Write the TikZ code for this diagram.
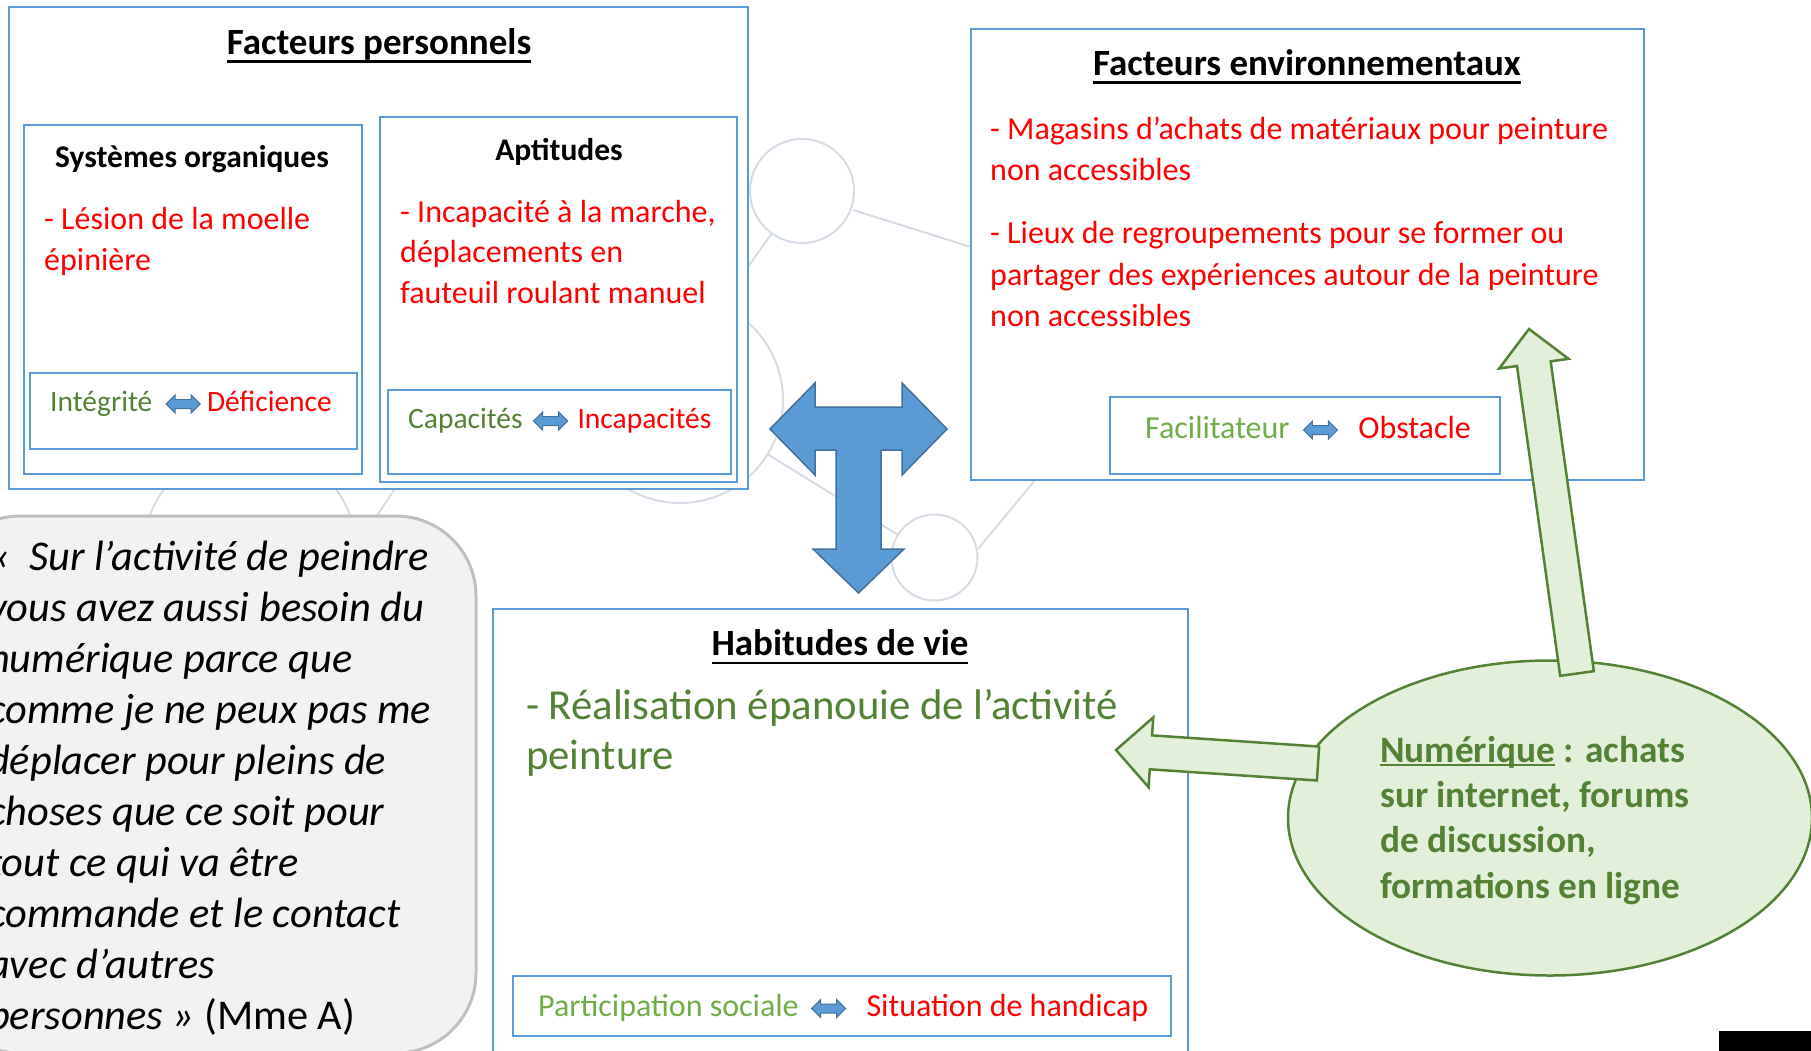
\documentclass[tikz,border=0pt]{standalone}
\usepackage{fontspec}
\setmainfont{Carlito}
\usetikzlibrary{positioning, shapes.geometric, shapes.arrows, calc, fit}

\definecolor{bleucadre}{RGB}{91,155,213}
\definecolor{bleubord}{RGB}{65,113,156}
\definecolor{vertfonce}{RGB}{84,130,53}
\definecolor{vertclair}{RGB}{112,173,71}
\definecolor{vertpale}{RGB}{226,240,217}
\definecolor{rouge}{RGB}{255,0,0}
\definecolor{grisfond}{RGB}{242,242,242}
\definecolor{grisbord}{RGB}{191,191,191}
\definecolor{grisdeco}{RGB}{214,220,229}

\newcommand{\souligne}[3]{\setbox0=\hbox{#3}\rlap{\rule[-#1]{\wd0}{#2}}\box0\relax}

\newcommand{\blocfleche}[2]{%
  \path ($(#2)!35pt!(#1)$) coordinate (hb);
  \draw[flecheverte] ($(#1)!17pt!90:(#2)$) -- ($(hb)!17pt!90:(#2)$) -- ($(hb)!35pt!90:(#2)$) -- (#2)
    -- ($(hb)!35pt!-90:(#2)$) -- ($(hb)!17pt!-90:(#2)$) -- ($(#1)!17pt!-90:(#2)$) -- cycle;
}

\tikzset{
  boite/.style={draw=bleucadre, line width=1.3pt, fill=white, inner sep=0pt},
  citation/.style={draw=grisbord, line width=3pt, fill=grisfond, rounded corners=80pt, inner sep=0pt},
  deco/.style={draw=grisdeco, line width=2pt},
  titre/.style={font=\fontsize{37}{44}\selectfont\bfseries, inner sep=0pt},
  soustitre/.style={font=\fontsize{31.5}{38}\selectfont\bfseries, inner sep=0pt},
  paragraphe/.style={anchor=north west, align=left, inner sep=0pt},
  petit/.style={font=\fontsize{29.5}{36}\selectfont, inner sep=0pt, text height=22pt, text depth=7pt, anchor=west},
  moyen/.style={font=\fontsize{32}{41}\selectfont, inner sep=0pt, text height=24pt, text depth=8pt, anchor=west},
  petitefleche/.style={double arrow, fill=bleucadre, draw=bleubord, line width=1pt,
    minimum height=34pt, inner sep=4pt, text height=0pt, text depth=0pt, double arrow head extend=4.5pt},
  tfleche/.style={fill=bleucadre, draw=bleubord, line width=1.5pt},
  flecheverte/.style={fill=vertpale, draw=vertfonce, line width=2.5pt, line join=miter},
  bulle/.style={ellipse, fill=vertpale, draw=vertfonce, line width=2.5pt, inner sep=0pt}
}

\begin{document}
\begin{tikzpicture}[x=1pt, y=-1pt]
  \useasboundingbox (0,0) rectangle (1811,1051);

  \draw[deco] (853,210) -- (971,247);
  \draw[deco] (772,233) -- (740,278);
  \draw[deco] (680,400) -- (934.5,557.5);
  \draw[deco] (978,549) -- (1035,480);
  \draw[deco] (410,466) -- (360,541);
  \draw[deco, fill=white] (802,191) circle[radius=52pt];
  \draw[deco, fill=white] (680,400) circle[radius=103pt];
  \draw[deco, fill=white] (934.5,557.5) circle[radius=43pt];
  \draw[deco, fill=white] (250,553) circle[radius=107pt];

  \node[boite, fit={(9,7) (748,489)}] (fp) {};
  \node[boite, fit={(24,125) (362,474)}] (so) {};
  \node[boite, fit={(380,117) (737,482)}] (apt) {};
  \node[boite, fit={(30,373) (357,449)}] (integ) {};
  \node[boite, fit={(388,390) (731,474)}] (capac) {};
  \node[boite, fit={(971,29) (1644,480)}] (fe) {};
  \node[boite, fit={(1110,397) (1500,474)}] (facil) {};
  \node[boite, fit={(493,609) (1188,1070)}] (hv) {};
  \node[boite, fit={(513,976) (1171,1036)}] (partic) {};
  \node[citation, fit={(-60,516) (476,1053)}] (cit) {};

  \node[titre, anchor=base] (fptitre) at (379,54.5) {\souligne{8.5pt}{2.5pt}{Facteurs personnels}};
  \node[soustitre, anchor=base] (sotitre) at (192,167.5) {Systèmes organiques};
  \node[soustitre, anchor=base] (apttitre) at (559,160.5) {Aptitudes};
  \node[paragraphe, font=\fontsize{32}{41}\selectfont, text=rouge] (sotxt) at (44,207)
    {- Lésion de la moelle\\épinière};
  \node[paragraphe, font=\fontsize{32}{40.5}\selectfont, text=rouge] (apttxt) at (400,200)
    {- Incapacité à la marche,\\déplacements en\\fauteuil roulant manuel};

  \node[petit, text=vertfonce] (integtxt) at (50,404) {Intégrité};
  \node[petitefleche, right=13pt of integtxt] (f1) {};
  \node[petit, text=rouge, right=6pt of f1] (defic) {Déficience};

  \node[petit, text=vertfonce] (capactxt) at (408,421) {Capacités};
  \node[petitefleche, right=10pt of capactxt] (f2) {};
  \node[petit, text=rouge, right=9pt of f2] (incap) {Incapacités};

  \node[titre, anchor=base] (fetitre) at (1307,75.5) {\souligne{8.5pt}{2.5pt}{Facteurs environnementaux}};
  \node[paragraphe, font=\fontsize{32}{41.5}\selectfont, text=rouge] (fetxt) at (990,116.5)
    {- Magasins d’achats de matériaux pour peinture\\non accessibles\\[21.5pt]
     - Lieux de regroupements pour se former ou\\partager des expériences autour de la peinture\\non accessibles};

  \node[moyen, text=vertclair] (faciltxt) at (1145,430) {Facilitateur};
  \node[petitefleche, right=13pt of faciltxt] (f3) {};
  \node[moyen, text=rouge, right=20pt of f3] (obst) {Obstacle};

  \node[titre, anchor=base] (hvtitre) at (840,655.5) {\souligne{8.5pt}{2.5pt}{Habitudes de vie}};
  \node[paragraphe, font=\fontsize{42.75}{50}\selectfont, text=vertfonce] (hvtxt) at (526,689.5)
    {- Réalisation épanouie de l’activité\\peinture};

  \node[moyen, text=vertclair] (partictxt) at (538,1008.5) {Participation sociale};
  \node[petitefleche, right=12pt of partictxt] (f4) {};
  \node[moyen, text=rouge, right=20pt of f4] (sith) {Situation de handicap};

  \node[paragraphe, font=\fontsize{42.4}{51}\selectfont\itshape] (cittxt) at (-12,541)
    {«~~Sur l’activité de peindre\\vous avez aussi besoin du\\numérique parce que\\comme je ne peux pas me\\déplacer pour pleins de\\choses que ce soit pour\\tout ce qui va être\\commande et le contact\\avec d’autres\\personnes » {\upshape (Mme A)}};

  \draw[tfleche] (770,429) -- (815,383) -- (815,407) -- (902,407) -- (902,383) -- (947,429)
    -- (902,475) -- (902,450) -- (881,450) -- (881,549) -- (904,549) -- (858.5,593)
    -- (813,549) -- (836,549) -- (836,450) -- (815,450) -- (815,475) -- cycle;

  \node[bulle, minimum width=524pt, minimum height=315pt] (num) at (1550,818) {};
  \coordinate (pointehaut) at (1529,329);
  \coordinate (basehaut) at (1577,673.5);
  \coordinate (pointegauche) at (1116,750);
  \coordinate (basegauche) at (1318,763.5);
  \blocfleche{basehaut}{pointehaut}
  \blocfleche{basegauche}{pointegauche}
  \node[paragraphe, font=\fontsize{37.3}{45.3}\selectfont\bfseries, text=vertfonce] (numtxt) at (1380,736)
    {\souligne{4pt}{2pt}{Numérique} : achats\\sur internet, forums\\de discussion,\\formations en ligne};

  \fill (1719,1031) rectangle (1811,1060);
\end{tikzpicture}
\end{document}
